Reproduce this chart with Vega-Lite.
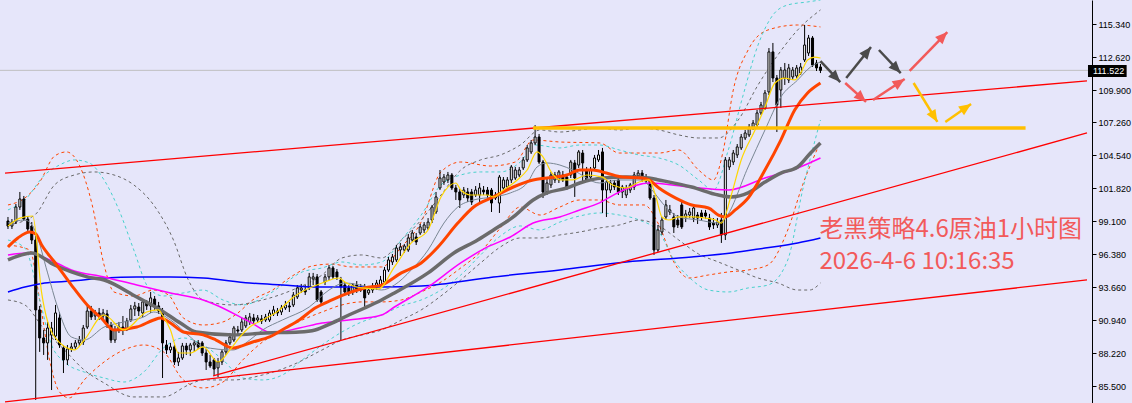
{
"$schema":"https://vega.github.io/schema/vega-lite/v6.json",
"width":1092,"height":403,
"autosize":{"type":"none"},
"padding":{"left":0,"top":0,"right":40,"bottom":0},
"background":"#E6E6FA",
"config":{"view":{"stroke":null},
 "axisY":{"grid":false,"domainColor":"#000000","domainWidth":1,"tickColor":"#000000","tickSize":4,"labelColor":"#000000","labelFont":"Liberation Sans","labelFontSize":9,"labelPadding":2,"labelOverlap":false,"labelFlush":false}},
"resolve":{"scale":{"color":"independent"}},
"datasets":{
"k":[
{"i":0,"o":99.11,"h":99.44,"l":98.45,"c":98.69},{"i":1,"o":98.69,"h":99.27,"l":98.45,"c":99.02},{"i":2,"o":99.02,"h":100.51,"l":98.86,"c":100.26},{"i":3,"o":100.26,"h":101.50,"l":100.02,"c":100.92},{"i":4,"o":100.92,"h":101.17,"l":99.11,"c":99.27},{"i":5,"o":99.27,"h":99.52,"l":98.29,"c":98.45},{"i":6,"o":98.69,"h":99.02,"l":97.21,"c":97.54},{"i":7,"o":97.54,"h":97.87,"l":84.36,"c":91.78},{"i":8,"o":91.78,"h":92.11,"l":88.32,"c":89.47},{"i":9,"o":89.47,"h":90.13,"l":88.07,"c":89.06},
{"i":10,"o":89.06,"h":90.79,"l":87.66,"c":90.29},{"i":11,"o":89.71,"h":90.79,"l":85.18,"c":90.29},{"i":12,"o":89.63,"h":92.19,"l":89.30,"c":91.53},{"i":13,"o":91.12,"h":91.61,"l":88.65,"c":88.89},{"i":14,"o":88.65,"h":88.89,"l":86.58,"c":87.66},{"i":15,"o":87.66,"h":88.89,"l":87.24,"c":88.56},{"i":16,"o":88.56,"h":89.06,"l":88.32,"c":88.73},{"i":17,"o":88.73,"h":89.30,"l":88.48,"c":89.06},{"i":18,"o":89.06,"h":89.63,"l":88.81,"c":89.30},{"i":19,"o":89.14,"h":90.54,"l":88.89,"c":90.29},
{"i":20,"o":90.37,"h":92.19,"l":90.21,"c":91.69},{"i":21,"o":91.69,"h":92.11,"l":90.95,"c":91.20},{"i":22,"o":91.28,"h":91.78,"l":90.95,"c":91.53},{"i":23,"o":91.53,"h":91.94,"l":90.95,"c":91.28},{"i":24,"o":91.28,"h":91.86,"l":90.95,"c":91.53},{"i":25,"o":91.45,"h":91.78,"l":90.29,"c":90.62},{"i":26,"o":90.54,"h":90.79,"l":89.06,"c":89.30},{"i":27,"o":89.30,"h":90.46,"l":89.06,"c":90.13},{"i":28,"o":90.13,"h":90.79,"l":89.88,"c":90.37},{"i":29,"o":90.37,"h":91.28,"l":89.71,"c":90.21},
{"i":30,"o":90.21,"h":91.12,"l":90.04,"c":90.87},{"i":31,"o":90.95,"h":92.19,"l":90.79,"c":91.86},{"i":32,"o":91.86,"h":92.44,"l":91.28,"c":92.11},{"i":33,"o":92.02,"h":92.35,"l":91.28,"c":91.69},{"i":34,"o":91.53,"h":92.60,"l":91.20,"c":92.44},{"i":35,"o":92.35,"h":92.60,"l":91.78,"c":92.11},{"i":36,"o":92.11,"h":93.26,"l":91.53,"c":92.77},{"i":37,"o":92.68,"h":92.93,"l":91.78,"c":92.11},{"i":38,"o":92.11,"h":92.44,"l":91.45,"c":91.69},{"i":39,"o":91.69,"h":91.94,"l":86.17,"c":89.06},
{"i":40,"o":88.89,"h":89.30,"l":88.15,"c":88.48},{"i":41,"o":88.48,"h":89.06,"l":88.23,"c":88.73},{"i":42,"o":88.73,"h":88.89,"l":87.24,"c":87.49},{"i":43,"o":87.49,"h":88.32,"l":87.16,"c":87.82},{"i":44,"o":87.82,"h":89.06,"l":87.66,"c":88.81},{"i":45,"o":88.81,"h":89.06,"l":88.07,"c":88.48},{"i":46,"o":88.48,"h":89.06,"l":87.99,"c":88.89},{"i":47,"o":88.89,"h":89.30,"l":88.32,"c":89.06},{"i":48,"o":89.06,"h":89.30,"l":88.56,"c":88.73},{"i":49,"o":89.06,"h":89.22,"l":87.99,"c":88.23},
{"i":50,"o":88.23,"h":88.56,"l":86.83,"c":87.49},{"i":51,"o":87.49,"h":88.07,"l":87.00,"c":87.16},{"i":52,"o":87.66,"h":87.82,"l":86.42,"c":86.91},{"i":53,"o":87.00,"h":87.82,"l":86.25,"c":87.49},{"i":54,"o":87.49,"h":88.48,"l":87.24,"c":88.32},{"i":55,"o":88.32,"h":89.30,"l":88.07,"c":89.06},{"i":56,"o":89.06,"h":89.88,"l":88.89,"c":89.55},{"i":57,"o":89.30,"h":90.46,"l":89.14,"c":90.29},{"i":58,"o":90.13,"h":90.46,"l":89.80,"c":90.04},{"i":59,"o":90.13,"h":91.12,"l":89.96,"c":90.79},
{"i":60,"o":90.46,"h":91.36,"l":90.29,"c":91.12},{"i":61,"o":90.79,"h":91.53,"l":90.54,"c":91.20},{"i":62,"o":91.12,"h":91.45,"l":90.62,"c":90.87},{"i":63,"o":90.95,"h":91.36,"l":90.70,"c":91.12},{"i":64,"o":91.04,"h":91.36,"l":90.62,"c":90.87},{"i":65,"o":90.95,"h":91.45,"l":90.79,"c":91.20},{"i":66,"o":90.95,"h":91.78,"l":90.79,"c":91.53},{"i":67,"o":91.45,"h":92.11,"l":91.28,"c":91.78},{"i":68,"o":91.69,"h":91.94,"l":91.28,"c":91.53},{"i":69,"o":91.61,"h":92.19,"l":91.36,"c":91.94},
{"i":70,"o":91.94,"h":92.52,"l":91.78,"c":92.19},{"i":71,"o":92.11,"h":92.44,"l":91.61,"c":92.02},{"i":72,"o":92.19,"h":93.26,"l":92.02,"c":93.01},{"i":73,"o":92.85,"h":93.83,"l":92.68,"c":93.59},{"i":74,"o":93.42,"h":93.92,"l":93.18,"c":93.59},{"i":75,"o":93.42,"h":93.83,"l":93.01,"c":93.26},{"i":76,"o":93.59,"h":94.83,"l":93.42,"c":94.50},{"i":77,"o":94.33,"h":94.83,"l":93.83,"c":94.50},{"i":78,"o":94.50,"h":94.74,"l":92.44,"c":92.60},{"i":79,"o":93.26,"h":93.42,"l":92.19,"c":92.44},
{"i":80,"o":94.08,"h":94.74,"l":93.83,"c":94.50},{"i":81,"o":94.50,"h":95.48,"l":94.25,"c":95.24},{"i":82,"o":95.24,"h":95.40,"l":94.33,"c":94.50},{"i":83,"o":94.91,"h":95.15,"l":94.25,"c":94.50},{"i":84,"o":94.25,"h":94.50,"l":89.30,"c":93.67},{"i":85,"o":93.83,"h":94.08,"l":93.01,"c":93.26},{"i":86,"o":93.59,"h":93.83,"l":92.93,"c":93.18},{"i":87,"o":93.26,"h":94.00,"l":93.01,"c":93.83},{"i":88,"o":93.83,"h":94.16,"l":93.18,"c":93.42},{"i":89,"o":93.42,"h":93.92,"l":93.26,"c":93.67},
{"i":90,"o":93.67,"h":93.92,"l":91.94,"c":92.77},{"i":91,"o":93.18,"h":93.75,"l":93.01,"c":93.42},{"i":92,"o":93.42,"h":94.00,"l":93.18,"c":93.75},{"i":93,"o":93.67,"h":94.25,"l":93.42,"c":94.00},{"i":94,"o":93.83,"h":94.58,"l":93.67,"c":94.25},{"i":95,"o":94.08,"h":95.32,"l":93.92,"c":95.07},{"i":96,"o":95.07,"h":96.14,"l":94.91,"c":95.90},{"i":97,"o":95.73,"h":96.39,"l":95.48,"c":96.14},{"i":98,"o":95.90,"h":97.13,"l":95.73,"c":96.88},{"i":99,"o":96.72,"h":97.30,"l":96.23,"c":96.97},
{"i":100,"o":96.72,"h":97.21,"l":96.47,"c":97.05},{"i":101,"o":96.72,"h":98.04,"l":96.56,"c":97.71},{"i":102,"o":97.54,"h":98.37,"l":97.38,"c":98.12},{"i":103,"o":97.79,"h":98.12,"l":97.13,"c":97.38},{"i":104,"o":98.12,"h":98.86,"l":97.96,"c":98.62},{"i":105,"o":98.37,"h":99.02,"l":98.12,"c":98.78},{"i":106,"o":98.53,"h":99.35,"l":98.37,"c":99.02},{"i":107,"o":99.19,"h":100.43,"l":98.94,"c":100.26},{"i":108,"o":99.85,"h":101.50,"l":99.69,"c":101.09},{"i":109,"o":101.83,"h":103.31,"l":101.66,"c":102.65},
{"i":110,"o":102.32,"h":102.98,"l":102.08,"c":102.73},{"i":111,"o":102.49,"h":103.15,"l":102.24,"c":102.90},{"i":112,"o":102.90,"h":103.06,"l":101.66,"c":101.83},{"i":113,"o":101.83,"h":102.08,"l":100.84,"c":101.50},{"i":114,"o":101.50,"h":101.75,"l":100.18,"c":100.84},{"i":115,"o":101.25,"h":101.91,"l":101.00,"c":101.66},{"i":116,"o":101.50,"h":101.83,"l":100.67,"c":101.00},{"i":117,"o":101.50,"h":101.75,"l":100.43,"c":100.67},{"i":118,"o":101.25,"h":101.99,"l":101.09,"c":101.66},{"i":119,"o":101.25,"h":102.24,"l":100.59,"c":101.83},
{"i":120,"o":101.66,"h":101.99,"l":101.25,"c":101.50},{"i":121,"o":101.66,"h":101.91,"l":101.00,"c":101.25},{"i":122,"o":101.66,"h":101.83,"l":99.85,"c":100.59},{"i":123,"o":101.00,"h":101.50,"l":100.84,"c":101.25},{"i":124,"o":100.59,"h":102.90,"l":99.77,"c":102.73},{"i":125,"o":101.83,"h":102.73,"l":101.66,"c":102.49},{"i":126,"o":101.91,"h":102.73,"l":101.66,"c":102.49},{"i":127,"o":102.49,"h":103.72,"l":102.24,"c":103.56},{"i":128,"o":102.65,"h":103.56,"l":102.49,"c":103.31},{"i":129,"o":102.90,"h":103.56,"l":102.73,"c":103.31},
{"i":130,"o":103.48,"h":104.38,"l":103.31,"c":104.14},{"i":131,"o":104.14,"h":105.37,"l":103.97,"c":105.13},{"i":132,"o":104.80,"h":105.78,"l":104.63,"c":105.54},{"i":133,"o":105.54,"h":107.01,"l":105.37,"c":106.03},{"i":134,"o":106.03,"h":106.28,"l":103.81,"c":103.97},{"i":135,"o":103.97,"h":104.14,"l":101.00,"c":101.50},{"i":136,"o":101.50,"h":102.65,"l":101.25,"c":102.24},{"i":137,"o":102.08,"h":103.15,"l":101.83,"c":102.90},{"i":138,"o":102.49,"h":103.15,"l":102.24,"c":102.90},{"i":139,"o":102.49,"h":103.31,"l":102.24,"c":103.15},
{"i":140,"o":102.90,"h":103.23,"l":102.32,"c":102.49},{"i":141,"o":102.73,"h":102.98,"l":101.66,"c":101.83},{"i":142,"o":102.90,"h":104.14,"l":102.65,"c":103.97},{"i":143,"o":103.89,"h":104.14,"l":101.09,"c":102.65},{"i":144,"o":103.72,"h":104.96,"l":103.48,"c":104.80},{"i":145,"o":104.71,"h":104.96,"l":102.24,"c":103.89},{"i":146,"o":103.31,"h":103.56,"l":102.32,"c":102.49},{"i":147,"o":102.73,"h":103.56,"l":102.49,"c":103.31},{"i":148,"o":103.48,"h":104.55,"l":103.31,"c":104.30},{"i":149,"o":104.14,"h":104.96,"l":103.97,"c":104.55},
{"i":150,"o":104.80,"h":105.13,"l":99.77,"c":101.66},{"i":151,"o":101.66,"h":102.49,"l":99.44,"c":102.32},{"i":152,"o":101.66,"h":102.49,"l":101.42,"c":102.24},{"i":153,"o":102.24,"h":102.49,"l":101.66,"c":101.91},{"i":154,"o":102.49,"h":102.65,"l":101.25,"c":101.50},{"i":155,"o":101.50,"h":102.08,"l":101.00,"c":101.91},{"i":156,"o":101.25,"h":102.08,"l":101.00,"c":101.83},{"i":157,"o":101.66,"h":102.24,"l":101.42,"c":102.08},{"i":158,"o":101.91,"h":103.15,"l":101.66,"c":102.90},{"i":159,"o":102.82,"h":103.31,"l":102.65,"c":103.06},
{"i":160,"o":103.06,"h":103.31,"l":102.32,"c":102.65},{"i":161,"o":102.73,"h":102.98,"l":102.24,"c":102.40},{"i":162,"o":102.49,"h":102.73,"l":100.84,"c":101.00},{"i":163,"o":101.00,"h":101.25,"l":96.31,"c":96.72},{"i":164,"o":96.72,"h":98.78,"l":96.56,"c":98.37},{"i":165,"o":98.20,"h":99.44,"l":97.96,"c":99.19},{"i":166,"o":99.44,"h":100.84,"l":99.19,"c":100.43},{"i":167,"o":99.85,"h":100.43,"l":99.60,"c":100.02},{"i":168,"o":99.44,"h":99.77,"l":98.12,"c":98.62},{"i":169,"o":99.19,"h":99.60,"l":98.53,"c":98.78},
{"i":170,"o":100.43,"h":100.67,"l":98.45,"c":98.62},{"i":171,"o":99.44,"h":100.02,"l":99.02,"c":99.69},{"i":172,"o":99.60,"h":100.18,"l":99.35,"c":99.85},{"i":173,"o":99.35,"h":100.43,"l":99.02,"c":100.18},{"i":174,"o":99.60,"h":99.85,"l":98.86,"c":99.35},{"i":175,"o":99.77,"h":100.02,"l":99.19,"c":99.44},{"i":176,"o":99.77,"h":100.02,"l":99.27,"c":99.52},{"i":177,"o":99.35,"h":99.69,"l":98.37,"c":98.62},{"i":178,"o":98.94,"h":99.35,"l":98.45,"c":98.78},{"i":179,"o":98.78,"h":99.35,"l":98.53,"c":99.02},
{"i":180,"o":99.19,"h":99.77,"l":97.30,"c":97.96},{"i":181,"o":97.96,"h":104.38,"l":97.54,"c":104.14},{"i":182,"o":103.56,"h":104.38,"l":103.31,"c":104.14},{"i":183,"o":103.97,"h":104.96,"l":103.72,"c":104.71},{"i":184,"o":104.55,"h":105.45,"l":104.30,"c":105.21},{"i":185,"o":105.13,"h":106.28,"l":104.96,"c":106.03},{"i":186,"o":105.95,"h":106.61,"l":105.78,"c":106.36},{"i":187,"o":106.20,"h":107.10,"l":106.03,"c":106.85},{"i":188,"o":106.77,"h":107.43,"l":106.61,"c":107.18},{"i":189,"o":107.02,"h":108.26,"l":106.85,"c":108.01},
{"i":190,"o":108.01,"h":108.92,"l":107.84,"c":108.67},{"i":191,"o":108.42,"h":109.90,"l":108.26,"c":109.66},{"i":192,"o":109.74,"h":113.36,"l":109.49,"c":113.04},{"i":193,"o":113.04,"h":113.78,"l":110.56,"c":110.89},{"i":194,"o":110.89,"h":111.14,"l":106.44,"c":108.67},{"i":195,"o":109.90,"h":111.80,"l":108.42,"c":111.55},{"i":196,"o":110.89,"h":112.13,"l":110.32,"c":111.55},{"i":197,"o":110.73,"h":112.05,"l":110.48,"c":111.72},{"i":198,"o":110.98,"h":111.80,"l":110.73,"c":111.55},{"i":199,"o":111.06,"h":111.96,"l":110.89,"c":111.72},
{"i":200,"o":111.31,"h":112.13,"l":111.14,"c":111.80},{"i":201,"o":112.38,"h":115.26,"l":112.21,"c":113.61},{"i":202,"o":112.95,"h":114.44,"l":112.71,"c":114.19},{"i":203,"o":114.19,"h":114.35,"l":111.80,"c":111.96},{"i":204,"o":112.13,"h":112.38,"l":111.47,"c":111.72},{"i":205,"o":111.80,"h":112.05,"l":111.30,"c":111.52}
],
"ma":[
{"s":"Y","i":0,"p":98.69},{"s":"Y","i":3,"p":99.35},{"s":"Y","i":6.25,"p":99.52},{"s":"Y","i":8.5,"p":93.18},{"s":"Y","i":11.75,"p":89.55},{"s":"Y","i":16.75,"p":88.48},{"s":"Y","i":19.25,"p":89.30},{"s":"Y","i":24.25,"p":91.36},{"s":"Y","i":29.25,"p":90.13},{"s":"Y","i":35,"p":91.61},{"s":"Y","i":38,"p":91.78},{"s":"Y","i":39.25,"p":91.20},{"s":"Y","i":41,"p":90.13},{"s":"Y","i":43,"p":88.23},{"s":"Y","i":46,"p":88.23},{"s":"Y","i":49.25,"p":88.73},{"s":"Y","i":53,"p":87.49},{"s":"Y","i":56,"p":88.48},{"s":"Y","i":58.5,"p":89.55},{"s":"Y","i":61,"p":90.37},{"s":"Y","i":64.25,"p":90.95},{"s":"Y","i":68.5,"p":91.78},{"s":"Y","i":71.75,"p":92.77},{"s":"Y","i":75,"p":93.42},{"s":"Y","i":79.25,"p":94.00},{"s":"Y","i":83.5,"p":94.41},{"s":"Y","i":85,"p":94.08},{"s":"Y","i":89.25,"p":93.59},{"s":"Y","i":93.5,"p":93.51},{"s":"Y","i":97.5,"p":95.32},{"s":"Y","i":101.75,"p":97.30},{"s":"Y","i":106,"p":98.37},{"s":"Y","i":109.25,"p":101.09},{"s":"Y","i":113,"p":102.24},{"s":"Y","i":114.25,"p":101.66},{"s":"Y","i":116.75,"p":101.25},{"s":"Y","i":121,"p":101.25},{"s":"Y","i":122.5,"p":101.09},{"s":"Y","i":125,"p":101.66},{"s":"Y","i":128.5,"p":102.49},{"s":"Y","i":131,"p":103.31},{"s":"Y","i":133.5,"p":104.80},{"s":"Y","i":135,"p":104.38},{"s":"Y","i":137.25,"p":103.06},{"s":"Y","i":139.25,"p":102.49},{"s":"Y","i":142.5,"p":102.49},{"s":"Y","i":146,"p":102.90},{"s":"Y","i":150,"p":102.73},{"s":"Y","i":152.5,"p":102.08},{"s":"Y","i":156,"p":101.83},{"s":"Y","i":159.25,"p":102.32},{"s":"Y","i":161.75,"p":102.49},{"s":"Y","i":163.5,"p":101.09},{"s":"Y","i":165,"p":99.44},{"s":"Y","i":166.75,"p":99.19},{"s":"Y","i":169.25,"p":99.44},{"s":"Y","i":172.5,"p":99.44},{"s":"Y","i":176,"p":99.35},{"s":"Y","i":178.5,"p":99.19},{"s":"Y","i":180,"p":98.94},{"s":"Y","i":182.5,"p":101.25},{"s":"Y","i":185,"p":104.14},{"s":"Y","i":188.5,"p":106.61},{"s":"Y","i":191,"p":108.50},{"s":"Y","i":193.5,"p":110.48},{"s":"Y","i":196,"p":110.89},{"s":"Y","i":198.5,"p":110.73},{"s":"Y","i":200,"p":111.30},{"s":"Y","i":201.75,"p":112.38},{"s":"Y","i":203.5,"p":112.62},{"s":"Y","i":205,"p":112.54},
{"s":"GT","i":0,"p":98.94},{"s":"GT","i":4.25,"p":99.19},{"s":"GT","i":6.75,"p":98.37},{"s":"GT","i":10,"p":94.83},{"s":"GT","i":12.5,"p":92.02},{"s":"GT","i":16,"p":89.55},{"s":"GT","i":19.25,"p":89.30},{"s":"GT","i":24.25,"p":90.37},{"s":"GT","i":29.25,"p":90.79},{"s":"GT","i":34.25,"p":91.20},{"s":"GT","i":36.75,"p":91.61},{"s":"GT","i":41,"p":90.95},{"s":"GT","i":46,"p":89.55},{"s":"GT","i":49.25,"p":88.73},{"s":"GT","i":56.75,"p":88.48},{"s":"GT","i":61,"p":89.30},{"s":"GT","i":64.25,"p":90.13},{"s":"GT","i":69.25,"p":90.95},{"s":"GT","i":76,"p":92.02},{"s":"GT","i":81,"p":93.42},{"s":"GT","i":85,"p":94.00},{"s":"GT","i":91,"p":93.67},{"s":"GT","i":94.25,"p":93.42},{"s":"GT","i":97.5,"p":93.83},{"s":"GT","i":101.75,"p":95.07},{"s":"GT","i":106,"p":96.72},{"s":"GT","i":110,"p":98.94},{"s":"GT","i":113.5,"p":100.26},{"s":"GT","i":117.5,"p":100.84},{"s":"GT","i":122.5,"p":101.09},{"s":"GT","i":126.75,"p":101.42},{"s":"GT","i":131,"p":102.24},{"s":"GT","i":133.5,"p":103.56},{"s":"GT","i":136,"p":103.89},{"s":"GT","i":139.25,"p":103.72},{"s":"GT","i":142.5,"p":103.31},{"s":"GT","i":149.25,"p":102.24},{"s":"GT","i":154.25,"p":102.49},{"s":"GT","i":160,"p":102.49},{"s":"GT","i":162.5,"p":101.66},{"s":"GT","i":166,"p":100.26},{"s":"GT","i":169.25,"p":99.44},{"s":"GT","i":174.25,"p":99.19},{"s":"GT","i":179.25,"p":98.94},{"s":"GT","i":181,"p":99.35},{"s":"GT","i":186.75,"p":103.56},{"s":"GT","i":191,"p":106.61},{"s":"GT","i":195,"p":109.33},{"s":"GT","i":199.25,"p":110.73},{"s":"GT","i":202.5,"p":111.80},{"s":"GT","i":205,"p":112.21},
{"s":"OT","i":0,"p":96.97},{"s":"OT","i":2.5,"p":97.71},{"s":"OT","i":5.5,"p":98.20},{"s":"OT","i":7,"p":98.04},{"s":"OT","i":8.5,"p":97.13},{"s":"OT","i":11.75,"p":95.73},{"s":"OT","i":16,"p":93.83},{"s":"OT","i":20,"p":92.19},{"s":"OT","i":23.5,"p":91.12},{"s":"OT","i":26.75,"p":90.13},{"s":"OT","i":32.5,"p":90.37},{"s":"OT","i":36.75,"p":90.95},{"s":"OT","i":38.5,"p":91.12},{"s":"OT","i":41,"p":90.70},{"s":"OT","i":44.25,"p":89.96},{"s":"OT","i":49.25,"p":89.72},{"s":"OT","i":52.5,"p":89.30},{"s":"OT","i":56.75,"p":88.65},{"s":"OT","i":61.75,"p":89.14},{"s":"OT","i":66,"p":89.55},{"s":"OT","i":70,"p":90.29},{"s":"OT","i":73.5,"p":90.95},{"s":"OT","i":77.5,"p":91.94},{"s":"OT","i":81.75,"p":92.60},{"s":"OT","i":86,"p":93.18},{"s":"OT","i":90,"p":93.59},{"s":"OT","i":94.25,"p":93.83},{"s":"OT","i":99.25,"p":94.83},{"s":"OT","i":104.25,"p":95.65},{"s":"OT","i":108.5,"p":96.97},{"s":"OT","i":113.5,"p":98.94},{"s":"OT","i":117.5,"p":100.26},{"s":"OT","i":122.5,"p":101.09},{"s":"OT","i":127.5,"p":101.91},{"s":"OT","i":132.5,"p":102.49},{"s":"OT","i":136,"p":102.65},{"s":"OT","i":141,"p":102.90},{"s":"OT","i":144.25,"p":103.31},{"s":"OT","i":147.5,"p":103.31},{"s":"OT","i":151,"p":103.06},{"s":"OT","i":155,"p":102.73},{"s":"OT","i":160,"p":102.65},{"s":"OT","i":161.75,"p":102.49},{"s":"OT","i":164.25,"p":101.83},{"s":"OT","i":168.5,"p":101.00},{"s":"OT","i":172.5,"p":100.43},{"s":"OT","i":176.75,"p":100.18},{"s":"OT","i":179.25,"p":99.60},{"s":"OT","i":181,"p":99.44},{"s":"OT","i":183.5,"p":100.02},{"s":"OT","i":186.75,"p":101.00},{"s":"OT","i":191,"p":103.31},{"s":"OT","i":195,"p":105.78},{"s":"OT","i":198.5,"p":108.26},{"s":"OT","i":201.75,"p":109.66},{"s":"OT","i":205,"p":110.48},
{"s":"GK","i":0,"p":95.90},{"s":"GK","i":6,"p":96.47},{"s":"GK","i":11.75,"p":95.48},{"s":"GK","i":16,"p":94.91},{"s":"GK","i":20,"p":94.50},{"s":"GK","i":24.25,"p":94.25},{"s":"GK","i":32.5,"p":92.85},{"s":"GK","i":38.5,"p":91.78},{"s":"GK","i":43.5,"p":90.70},{"s":"GK","i":47.5,"p":89.96},{"s":"GK","i":56.75,"p":89.72},{"s":"GK","i":65,"p":89.88},{"s":"GK","i":73.5,"p":89.96},{"s":"GK","i":77.5,"p":90.13},{"s":"GK","i":81.75,"p":90.70},{"s":"GK","i":86,"p":91.36},{"s":"GK","i":90,"p":91.94},{"s":"GK","i":94.25,"p":92.60},{"s":"GK","i":97.5,"p":93.18},{"s":"GK","i":106,"p":94.83},{"s":"GK","i":112.5,"p":96.47},{"s":"GK","i":118.5,"p":97.54},{"s":"GK","i":122.5,"p":98.37},{"s":"GK","i":127.5,"p":99.44},{"s":"GK","i":132.5,"p":100.84},{"s":"GK","i":136,"p":101.42},{"s":"GK","i":141,"p":101.83},{"s":"GK","i":144.25,"p":102.24},{"s":"GK","i":150,"p":102.65},{"s":"GK","i":156,"p":102.73},{"s":"GK","i":161.75,"p":102.65},{"s":"GK","i":164.25,"p":102.49},{"s":"GK","i":172.5,"p":101.91},{"s":"GK","i":179.25,"p":101.25},{"s":"GK","i":182.5,"p":101.09},{"s":"GK","i":186.75,"p":101.42},{"s":"GK","i":191,"p":102.32},{"s":"GK","i":195,"p":103.06},{"s":"GK","i":199.25,"p":103.56},{"s":"GK","i":202.5,"p":104.71},{"s":"GK","i":205,"p":105.54},
{"s":"M","i":0,"p":96.31},{"s":"M","i":5,"p":96.47},{"s":"M","i":11.75,"p":95.73},{"s":"M","i":16,"p":95.07},{"s":"M","i":24.25,"p":94.50},{"s":"M","i":32.5,"p":93.83},{"s":"M","i":41,"p":93.18},{"s":"M","i":49.25,"p":92.60},{"s":"M","i":52.5,"p":92.19},{"s":"M","i":61,"p":90.79},{"s":"M","i":66.75,"p":89.88},{"s":"M","i":73.5,"p":90.29},{"s":"M","i":79.25,"p":90.70},{"s":"M","i":86,"p":90.95},{"s":"M","i":94.25,"p":91.36},{"s":"M","i":97.5,"p":92.02},{"s":"M","i":106,"p":93.67},{"s":"M","i":114.25,"p":95.65},{"s":"M","i":121,"p":96.97},{"s":"M","i":126.75,"p":97.79},{"s":"M","i":132.5,"p":98.94},{"s":"M","i":139.25,"p":99.44},{"s":"M","i":144.25,"p":100.02},{"s":"M","i":149.25,"p":100.60},{"s":"M","i":154.25,"p":101.50},{"s":"M","i":161.75,"p":102.24},{"s":"M","i":171.75,"p":101.91},{"s":"M","i":181.75,"p":101.66},{"s":"M","i":191,"p":102.65},{"s":"M","i":199.25,"p":103.48},{"s":"M","i":205,"p":104.30},
{"s":"B","i":0,"p":93.26},{"s":"B","i":4.25,"p":93.67},{"s":"B","i":9.25,"p":94.00},{"s":"B","i":16,"p":94.16},{"s":"B","i":24.25,"p":94.41},{"s":"B","i":32.5,"p":94.50},{"s":"B","i":41,"p":94.50},{"s":"B","i":49.25,"p":94.41},{"s":"B","i":61,"p":94.00},{"s":"B","i":69.25,"p":93.83},{"s":"B","i":77.5,"p":93.67},{"s":"B","i":86,"p":93.67},{"s":"B","i":94.25,"p":93.67},{"s":"B","i":104.25,"p":93.75},{"s":"B","i":122.5,"p":94.50},{"s":"B","i":139.25,"p":95.07},{"s":"B","i":156,"p":95.73},{"s":"B","i":172.5,"p":96.14},{"s":"B","i":182.5,"p":96.47},{"s":"B","i":191,"p":96.88},{"s":"B","i":199.25,"p":97.30},{"s":"B","i":205,"p":97.71},
{"s":"OU","i":0,"p":100.43},{"s":"OU","i":4.25,"p":101.00},{"s":"OU","i":8,"p":102.32},{"s":"OU","i":11.75,"p":104.46},{"s":"OU","i":14.75,"p":104.80},{"s":"OU","i":18,"p":103.72},{"s":"OU","i":21.25,"p":100.43},{"s":"OU","i":24.25,"p":95.48},{"s":"OU","i":26.75,"p":93.26},{"s":"OU","i":31.75,"p":92.93},{"s":"OU","i":36.75,"p":93.42},{"s":"OU","i":40.5,"p":93.01},{"s":"OU","i":44.25,"p":91.12},{"s":"OU","i":49.25,"p":90.54},{"s":"OU","i":54.25,"p":90.79},{"s":"OU","i":58,"p":91.53},{"s":"OU","i":61.75,"p":92.60},{"s":"OU","i":66.75,"p":93.42},{"s":"OU","i":71.75,"p":94.58},{"s":"OU","i":76.75,"p":95.40},{"s":"OU","i":81.75,"p":95.56},{"s":"OU","i":86.75,"p":95.32},{"s":"OU","i":94.25,"p":95.32},{"s":"OU","i":99.25,"p":96.97},{"s":"OU","i":104.25,"p":99.02},{"s":"OU","i":109.25,"p":103.15},{"s":"OU","i":114.25,"p":103.97},{"s":"OU","i":121.75,"p":103.64},{"s":"OU","i":128,"p":103.97},{"s":"OU","i":132.5,"p":105.78},{"s":"OU","i":139.25,"p":105.62},{"s":"OU","i":149.25,"p":105.54},{"s":"OU","i":154.25,"p":104.71},{"s":"OU","i":164.25,"p":104.71},{"s":"OU","i":169.25,"p":104.96},{"s":"OU","i":174.25,"p":103.31},{"s":"OU","i":178,"p":102.49},{"s":"OU","i":180.5,"p":104.96},{"s":"OU","i":183,"p":109.90},{"s":"OU","i":186.75,"p":113.20},{"s":"OU","i":191.75,"p":114.85},{"s":"OU","i":199.25,"p":115.26},{"s":"OU","i":205,"p":115.10},
{"s":"OL","i":0,"p":97.13},{"s":"OL","i":5.5,"p":96.72},{"s":"OL","i":8,"p":92.60},{"s":"OL","i":10.5,"p":87.66},{"s":"OL","i":13,"p":85.02},{"s":"OL","i":15.5,"p":84.53},{"s":"OL","i":19.25,"p":86.01},{"s":"OL","i":24.25,"p":87.49},{"s":"OL","i":29.25,"p":88.48},{"s":"OL","i":34.25,"p":88.89},{"s":"OL","i":39.25,"p":88.32},{"s":"OL","i":44.25,"p":86.01},{"s":"OL","i":49.25,"p":85.35},{"s":"OL","i":54.25,"p":85.84},{"s":"OL","i":59.25,"p":87.66},{"s":"OL","i":64.25,"p":89.14},{"s":"OL","i":69.25,"p":90.13},{"s":"OL","i":74.25,"p":90.95},{"s":"OL","i":79.25,"p":91.61},{"s":"OL","i":84.25,"p":92.19},{"s":"OL","i":89.25,"p":92.44},{"s":"OL","i":94.25,"p":92.44},{"s":"OL","i":99.25,"p":92.60},{"s":"OL","i":104.25,"p":93.26},{"s":"OL","i":109.25,"p":94.08},{"s":"OL","i":114.25,"p":95.24},{"s":"OL","i":119.25,"p":96.56},{"s":"OL","i":124.25,"p":98.53},{"s":"OL","i":129.25,"p":100.26},{"s":"OL","i":134.25,"p":99.60},{"s":"OL","i":139.25,"p":100.26},{"s":"OL","i":144.25,"p":100.84},{"s":"OL","i":149.25,"p":100.84},{"s":"OL","i":154.25,"p":100.43},{"s":"OL","i":160.5,"p":100.43},{"s":"OL","i":164.25,"p":98.78},{"s":"OL","i":168,"p":95.73},{"s":"OL","i":171.75,"p":94.41},{"s":"OL","i":176.75,"p":94.66},{"s":"OL","i":181.75,"p":94.91},{"s":"OL","i":186.75,"p":95.07},{"s":"OL","i":191.75,"p":95.48},{"s":"OL","i":196.75,"p":98.37},{"s":"OL","i":200.5,"p":102.08},{"s":"OL","i":205,"p":105.62},
{"s":"CU","i":0,"p":100.02},{"s":"CU","i":4.25,"p":100.84},{"s":"CU","i":9.25,"p":102.90},{"s":"CU","i":13,"p":103.72},{"s":"CU","i":16.75,"p":104.14},{"s":"CU","i":20.5,"p":103.89},{"s":"CU","i":24.25,"p":102.49},{"s":"CU","i":28,"p":100.02},{"s":"CU","i":31.75,"p":96.72},{"s":"CU","i":35.5,"p":93.59},{"s":"CU","i":39.25,"p":92.93},{"s":"CU","i":44.25,"p":93.18},{"s":"CU","i":49.25,"p":93.42},{"s":"CU","i":54.25,"p":92.60},{"s":"CU","i":59.25,"p":92.19},{"s":"CU","i":64.25,"p":92.77},{"s":"CU","i":69.25,"p":93.83},{"s":"CU","i":74.25,"p":94.91},{"s":"CU","i":79.25,"p":95.24},{"s":"CU","i":84.25,"p":95.73},{"s":"CU","i":89.25,"p":95.48},{"s":"CU","i":94.25,"p":95.73},{"s":"CU","i":99.25,"p":97.54},{"s":"CU","i":104.25,"p":99.60},{"s":"CU","i":109.25,"p":102.08},{"s":"CU","i":114.25,"p":102.90},{"s":"CU","i":119.25,"p":103.15},{"s":"CU","i":124.25,"p":103.15},{"s":"CU","i":129.25,"p":103.97},{"s":"CU","i":133,"p":105.37},{"s":"CU","i":139.25,"p":105.13},{"s":"CU","i":144.25,"p":105.37},{"s":"CU","i":149.25,"p":105.37},{"s":"CU","i":154.25,"p":104.96},{"s":"CU","i":159.25,"p":104.55},{"s":"CU","i":164.25,"p":104.30},{"s":"CU","i":169.25,"p":103.72},{"s":"CU","i":174.25,"p":102.49},{"s":"CU","i":178,"p":101.66},{"s":"CU","i":181.75,"p":104.96},{"s":"CU","i":185.5,"p":109.49},{"s":"CU","i":189.25,"p":113.61},{"s":"CU","i":193,"p":116.08},{"s":"CU","i":196.75,"p":116.91},{"s":"CU","i":201.75,"p":117.16},{"s":"CU","i":205,"p":117.32},
{"s":"CL","i":0,"p":97.54},{"s":"CL","i":4.25,"p":96.88},{"s":"CL","i":8,"p":92.60},{"s":"CL","i":11,"p":88.89},{"s":"CL","i":14.25,"p":87.49},{"s":"CL","i":19.25,"p":86.66},{"s":"CL","i":24.25,"p":86.17},{"s":"CL","i":29.25,"p":85.84},{"s":"CL","i":34.25,"p":86.66},{"s":"CL","i":39.25,"p":88.65},{"s":"CL","i":44.25,"p":89.47},{"s":"CL","i":49.25,"p":88.89},{"s":"CL","i":54.25,"p":87.66},{"s":"CL","i":59.25,"p":86.17},{"s":"CL","i":64.25,"p":86.01},{"s":"CL","i":69.25,"p":86.42},{"s":"CL","i":74.25,"p":87.66},{"s":"CL","i":79.25,"p":88.89},{"s":"CL","i":84.25,"p":89.96},{"s":"CL","i":89.25,"p":90.79},{"s":"CL","i":94.25,"p":91.36},{"s":"CL","i":99.25,"p":92.11},{"s":"CL","i":104.25,"p":92.60},{"s":"CL","i":109.25,"p":93.42},{"s":"CL","i":114.25,"p":94.66},{"s":"CL","i":119.25,"p":96.31},{"s":"CL","i":124.25,"p":97.87},{"s":"CL","i":129.25,"p":98.70},{"s":"CL","i":134.25,"p":98.37},{"s":"CL","i":139.25,"p":99.02},{"s":"CL","i":144.25,"p":99.52},{"s":"CL","i":149.25,"p":99.77},{"s":"CL","i":154.25,"p":99.60},{"s":"CL","i":159.25,"p":99.19},{"s":"CL","i":164.25,"p":98.20},{"s":"CL","i":168,"p":95.90},{"s":"CL","i":171.75,"p":94.50},{"s":"CL","i":176.75,"p":93.42},{"s":"CL","i":181.75,"p":93.26},{"s":"CL","i":186.75,"p":93.59},{"s":"CL","i":191.75,"p":93.83},{"s":"CL","i":196.75,"p":95.90},{"s":"CL","i":200.5,"p":101.66},{"s":"CL","i":205,"p":107.43},
{"s":"GU","i":0,"p":98.78},{"s":"GU","i":6.75,"p":99.60},{"s":"GU","i":11.75,"p":102.08},{"s":"GU","i":16.75,"p":102.90},{"s":"GU","i":21.75,"p":103.15},{"s":"GU","i":26.75,"p":102.90},{"s":"GU","i":31.75,"p":102.08},{"s":"GU","i":36.75,"p":100.43},{"s":"GU","i":41.75,"p":97.54},{"s":"GU","i":45.5,"p":94.25},{"s":"GU","i":49.25,"p":92.60},{"s":"GU","i":56.75,"p":92.19},{"s":"GU","i":64.25,"p":92.60},{"s":"GU","i":71.75,"p":93.42},{"s":"GU","i":79.25,"p":94.66},{"s":"GU","i":84.25,"p":96.06},{"s":"GU","i":89.25,"p":96.31},{"s":"GU","i":94.25,"p":96.06},{"s":"GU","i":99.25,"p":97.54},{"s":"GU","i":104.25,"p":99.19},{"s":"GU","i":109.25,"p":101.25},{"s":"GU","i":114.25,"p":103.31},{"s":"GU","i":119.25,"p":104.14},{"s":"GU","i":124.25,"p":104.55},{"s":"GU","i":129.25,"p":105.37},{"s":"GU","i":134.25,"p":106.61},{"s":"GU","i":139.25,"p":106.44},{"s":"GU","i":144.25,"p":106.61},{"s":"GU","i":149.25,"p":106.77},{"s":"GU","i":154.25,"p":106.61},{"s":"GU","i":159.25,"p":106.77},{"s":"GU","i":164.25,"p":106.61},{"s":"GU","i":169.25,"p":106.20},{"s":"GU","i":174.25,"p":105.95},{"s":"GU","i":179.25,"p":105.95},{"s":"GU","i":184.25,"p":107.43},{"s":"GU","i":189.25,"p":110.32},{"s":"GU","i":194.25,"p":112.79},{"s":"GU","i":199.25,"p":114.85},{"s":"GU","i":205,"p":116.50},
{"s":"GL","i":0,"p":92.60},{"s":"GL","i":4.25,"p":92.19},{"s":"GL","i":9.25,"p":90.13},{"s":"GL","i":14.25,"p":88.48},{"s":"GL","i":19.25,"p":86.83},{"s":"GL","i":24.25,"p":85.76},{"s":"GL","i":31.75,"p":84.61},{"s":"GL","i":39.25,"p":84.61},{"s":"GL","i":45.5,"p":85.59},{"s":"GL","i":49.25,"p":86.01},{"s":"GL","i":56.75,"p":86.01},{"s":"GL","i":64.25,"p":86.42},{"s":"GL","i":71.75,"p":87.24},{"s":"GL","i":79.25,"p":88.48},{"s":"GL","i":84.25,"p":89.30},{"s":"GL","i":89.25,"p":89.71},{"s":"GL","i":94.25,"p":90.13},{"s":"GL","i":99.25,"p":90.95},{"s":"GL","i":104.25,"p":91.78},{"s":"GL","i":109.25,"p":92.93},{"s":"GL","i":114.25,"p":94.25},{"s":"GL","i":119.25,"p":95.65},{"s":"GL","i":124.25,"p":96.97},{"s":"GL","i":129.25,"p":97.71},{"s":"GL","i":134.25,"p":97.71},{"s":"GL","i":139.25,"p":97.96},{"s":"GL","i":144.25,"p":98.20},{"s":"GL","i":149.25,"p":98.53},{"s":"GL","i":154.25,"p":98.78},{"s":"GL","i":159.25,"p":99.19},{"s":"GL","i":164.25,"p":98.70},{"s":"GL","i":169.25,"p":97.54},{"s":"GL","i":174.25,"p":96.39},{"s":"GL","i":179.25,"p":95.73},{"s":"GL","i":184.25,"p":95.07},{"s":"GL","i":189.25,"p":94.41},{"s":"GL","i":194.25,"p":94.00},{"s":"GL","i":199.25,"p":93.42},{"s":"GL","i":202.25,"p":93.42},{"s":"GL","i":205,"p":94.00}
],
"tl":[
{"i":-0.75,"p":103.06,"i2":272.25,"p2":110.65},
{"i":51.75,"p":86.34,"i2":272.25,"p2":106.36},
{"i":-0.75,"p":84.20,"i2":272.25,"p2":94.25}
],
"hl":[{"i":132.5,"p":106.77,"i2":256.75,"p2":106.77}],
"ar":[
{"g":"k","i":205,"p":112.29,"i2":210,"p2":110.56},
{"g":"k","i":211.5,"p":110.89,"i2":217.75,"p2":113.45},
{"g":"k","i":219.75,"p":113.20,"i2":225.25,"p2":111.30},
{"g":"r","i":211.25,"p":110.48,"i2":216.5,"p2":108.92},
{"g":"r","i":218.25,"p":109.08,"i2":226.25,"p2":110.81},
{"g":"r","i":227.5,"p":111.47,"i2":237,"p2":114.68},
{"g":"y","i":228.5,"p":110.48,"i2":234.5,"p2":107.27},
{"g":"y","i":236.5,"p":107.27,"i2":243,"p2":108.75}
],
"tx":[
{"i":204.75,"p":98.37,"t":"老黑策略4.6原油1小时图"},
{"i":204.75,"p":95.73,"t":"2026-4-6 10:16:35"}
],
"box":[{"i":272.5,"i2":282.25,"p":110.98,"p2":111.96,"ti":273.75,"tp":111.47,"t":"111.522"}]
},
"layer":[
{"data":{"values":[{"p":111.522}]},
 "mark":{"type":"rule","color":"#C0C0C0","strokeWidth":1},
 "encoding":{"y":{"field":"p","type":"quantitative","scale":{"domain":[84.11,117.32],"nice":false,"zero":false},
   "axis":{"orient":"right","values":[85.5,88.22,90.94,93.66,96.38,99.1,101.82,104.54,107.26,109.9,112.62,115.34],"format":".3f","title":null}}}},
{"data":{"name":"ma"},
 "transform":[{"filter":{"field":"s","oneOf":["OU","OL","CU","CL","GU","GL"]}}],
 "mark":{"type":"line","strokeWidth":1,"strokeDash":[3,3],"interpolate":"monotone"},
 "encoding":{"x":{"field":"i","type":"quantitative","scale":{"domain":[-0.75,272.25],"nice":false,"zero":false},"axis":null},
   "y":{"field":"p","type":"quantitative","scale":{"domain":[84.11,117.32],"nice":false,"zero":false},"axis":{"orient":"right","values":[85.5,88.22,90.94,93.66,96.38,99.1,101.82,104.54,107.26,109.9,112.62,115.34],"format":".3f","title":null}},
   "color":{"field":"s","type":"nominal","scale":{"domain":["OU","OL","CU","CL","GU","GL"],"range":["#FF4500","#FF4500","#48D1CC","#48D1CC","#696969","#696969"]},"legend":null}}},
{"data":{"name":"k"},
 "mark":{"type":"rule","color":"#000000","strokeWidth":1},
 "encoding":{"x":{"field":"i","type":"quantitative","scale":{"domain":[-0.75,272.25],"nice":false,"zero":false},"axis":null},
   "y":{"field":"l","type":"quantitative","scale":{"domain":[84.11,117.32],"nice":false,"zero":false},"axis":{"orient":"right","values":[85.5,88.22,90.94,93.66,96.38,99.1,101.82,104.54,107.26,109.9,112.62,115.34],"format":".3f","title":null}},
   "y2":{"field":"h"}}},
{"data":{"name":"k"},
 "mark":{"type":"bar","width":2,"stroke":"#000000","strokeWidth":1},
 "encoding":{"x":{"field":"i","type":"quantitative","scale":{"domain":[-0.75,272.25],"nice":false,"zero":false},"axis":null},
   "y":{"field":"o","type":"quantitative","scale":{"domain":[84.11,117.32],"nice":false,"zero":false},"axis":{"orient":"right","values":[85.5,88.22,90.94,93.66,96.38,99.1,101.82,104.54,107.26,109.9,112.62,115.34],"format":".3f","title":null}},
   "y2":{"field":"c"},
   "fill":{"condition":{"test":"datum.c >= datum.o","value":"#FFFFFF"},"value":"#000000"}}},
{"data":{"name":"ma"},"transform":[{"filter":"datum.s==='B'"}],
 "mark":{"type":"line","color":"#0000FF","strokeWidth":1.5,"interpolate":"monotone"},
 "encoding":{"x":{"field":"i","type":"quantitative","scale":{"domain":[-0.75,272.25],"nice":false,"zero":false},"axis":null},
   "y":{"field":"p","type":"quantitative","scale":{"domain":[84.11,117.32],"nice":false,"zero":false},"axis":{"orient":"right","values":[85.5,88.22,90.94,93.66,96.38,99.1,101.82,104.54,107.26,109.9,112.62,115.34],"format":".3f","title":null}}}},
{"data":{"name":"ma"},"transform":[{"filter":"datum.s==='M'"}],
 "mark":{"type":"line","color":"#FF00FF","strokeWidth":1.5,"interpolate":"monotone"},
 "encoding":{"x":{"field":"i","type":"quantitative","scale":{"domain":[-0.75,272.25],"nice":false,"zero":false},"axis":null},
   "y":{"field":"p","type":"quantitative","scale":{"domain":[84.11,117.32],"nice":false,"zero":false},"axis":{"orient":"right","values":[85.5,88.22,90.94,93.66,96.38,99.1,101.82,104.54,107.26,109.9,112.62,115.34],"format":".3f","title":null}}}},
{"data":{"name":"ma"},"transform":[{"filter":"datum.s==='GT'"}],
 "mark":{"type":"line","color":"#7A8794","strokeWidth":1,"interpolate":"monotone"},
 "encoding":{"x":{"field":"i","type":"quantitative","scale":{"domain":[-0.75,272.25],"nice":false,"zero":false},"axis":null},
   "y":{"field":"p","type":"quantitative","scale":{"domain":[84.11,117.32],"nice":false,"zero":false},"axis":{"orient":"right","values":[85.5,88.22,90.94,93.66,96.38,99.1,101.82,104.54,107.26,109.9,112.62,115.34],"format":".3f","title":null}}}},
{"data":{"name":"ma"},"transform":[{"filter":"datum.s==='GK'"}],
 "mark":{"type":"line","color":"#6B6B6B","strokeWidth":3.5,"interpolate":"monotone"},
 "encoding":{"x":{"field":"i","type":"quantitative","scale":{"domain":[-0.75,272.25],"nice":false,"zero":false},"axis":null},
   "y":{"field":"p","type":"quantitative","scale":{"domain":[84.11,117.32],"nice":false,"zero":false},"axis":{"orient":"right","values":[85.5,88.22,90.94,93.66,96.38,99.1,101.82,104.54,107.26,109.9,112.62,115.34],"format":".3f","title":null}}}},
{"data":{"name":"ma"},"transform":[{"filter":"datum.s==='OT'"}],
 "mark":{"type":"line","color":"#FF4500","strokeWidth":3,"interpolate":"monotone"},
 "encoding":{"x":{"field":"i","type":"quantitative","scale":{"domain":[-0.75,272.25],"nice":false,"zero":false},"axis":null},
   "y":{"field":"p","type":"quantitative","scale":{"domain":[84.11,117.32],"nice":false,"zero":false},"axis":{"orient":"right","values":[85.5,88.22,90.94,93.66,96.38,99.1,101.82,104.54,107.26,109.9,112.62,115.34],"format":".3f","title":null}}}},
{"data":{"name":"ma"},"transform":[{"filter":"datum.s==='Y'"}],
 "mark":{"type":"line","color":"#FFD700","strokeWidth":1.2,"interpolate":"monotone"},
 "encoding":{"x":{"field":"i","type":"quantitative","scale":{"domain":[-0.75,272.25],"nice":false,"zero":false},"axis":null},
   "y":{"field":"p","type":"quantitative","scale":{"domain":[84.11,117.32],"nice":false,"zero":false},"axis":{"orient":"right","values":[85.5,88.22,90.94,93.66,96.38,99.1,101.82,104.54,107.26,109.9,112.62,115.34],"format":".3f","title":null}}}},
{"data":{"name":"tl"},
 "mark":{"type":"rule","color":"#FF0000","strokeWidth":1.3},
 "encoding":{"x":{"field":"i","type":"quantitative","scale":{"domain":[-0.75,272.25],"nice":false,"zero":false},"axis":null},"x2":{"field":"i2"},
   "y":{"field":"p","type":"quantitative","scale":{"domain":[84.11,117.32],"nice":false,"zero":false},"axis":{"orient":"right","values":[85.5,88.22,90.94,93.66,96.38,99.1,101.82,104.54,107.26,109.9,112.62,115.34],"format":".3f","title":null}},"y2":{"field":"p2"}}},
{"data":{"name":"hl"},
 "mark":{"type":"rule","color":"#FFBF00","strokeWidth":3.5},
 "encoding":{"x":{"field":"i","type":"quantitative","scale":{"domain":[-0.75,272.25],"nice":false,"zero":false},"axis":null},"x2":{"field":"i2"},
   "y":{"field":"p","type":"quantitative","scale":{"domain":[84.11,117.32],"nice":false,"zero":false},"axis":{"orient":"right","values":[85.5,88.22,90.94,93.66,96.38,99.1,101.82,104.54,107.26,109.9,112.62,115.34],"format":".3f","title":null}},"y2":{"field":"p2"}}},
{"data":{"name":"ar"},
 "mark":{"type":"rule","strokeWidth":2.5},
 "encoding":{"x":{"field":"i","type":"quantitative","scale":{"domain":[-0.75,272.25],"nice":false,"zero":false},"axis":null},"x2":{"field":"i2"},
   "y":{"field":"p","type":"quantitative","scale":{"domain":[84.11,117.32],"nice":false,"zero":false},"axis":{"orient":"right","values":[85.5,88.22,90.94,93.66,96.38,99.1,101.82,104.54,107.26,109.9,112.62,115.34],"format":".3f","title":null}},"y2":{"field":"p2"},
   "color":{"field":"g","type":"nominal","scale":{"domain":["k","r","y"],"range":["#4A4A4A","#F25A5A","#FFC000"]},"legend":null}}},
{"data":{"name":"ar"},
 "transform":[{"calculate":"atan2((datum.i2-datum.i)*4,(datum.p2-datum.p)/0.08242)*180/PI","as":"ang"}],
 "mark":{"type":"point","filled":true,"opacity":1,"shape":"M0,0L0.6,1.4L-0.6,1.4Z","size":300},
 "encoding":{"x":{"field":"i2","type":"quantitative","scale":{"domain":[-0.75,272.25],"nice":false,"zero":false},"axis":null},
   "y":{"field":"p2","type":"quantitative","scale":{"domain":[84.11,117.32],"nice":false,"zero":false},"axis":{"orient":"right","values":[85.5,88.22,90.94,93.66,96.38,99.1,101.82,104.54,107.26,109.9,112.62,115.34],"format":".3f","title":null}},
   "angle":{"field":"ang","type":"quantitative","scale":null},
   "color":{"field":"g","type":"nominal","scale":{"domain":["k","r","y"],"range":["#4A4A4A","#F25A5A","#FFC000"]},"legend":null}}},
{"data":{"name":"tx"},
 "mark":{"type":"text","align":"left","baseline":"middle","font":"Noto Sans CJK SC","fontSize":24,"color":"#F25A5A"},
 "encoding":{"x":{"field":"i","type":"quantitative","scale":{"domain":[-0.75,272.25],"nice":false,"zero":false},"axis":null},
   "y":{"field":"p","type":"quantitative","scale":{"domain":[84.11,117.32],"nice":false,"zero":false},"axis":{"orient":"right","values":[85.5,88.22,90.94,93.66,96.38,99.1,101.82,104.54,107.26,109.9,112.62,115.34],"format":".3f","title":null}},
   "text":{"field":"t"}}},
{"data":{"name":"box"},
 "mark":{"type":"rect","color":"#000000"},
 "encoding":{"x":{"field":"i","type":"quantitative","scale":{"domain":[-0.75,272.25],"nice":false,"zero":false},"axis":null},"x2":{"field":"i2"},
   "y":{"field":"p","type":"quantitative","scale":{"domain":[84.11,117.32],"nice":false,"zero":false},"axis":{"orient":"right","values":[85.5,88.22,90.94,93.66,96.38,99.1,101.82,104.54,107.26,109.9,112.62,115.34],"format":".3f","title":null}},"y2":{"field":"p2"}}},
{"data":{"name":"box"},
 "mark":{"type":"text","align":"left","baseline":"middle","font":"Liberation Sans","fontSize":9,"color":"#FFFFFF"},
 "encoding":{"x":{"field":"ti","type":"quantitative","scale":{"domain":[-0.75,272.25],"nice":false,"zero":false},"axis":null},
   "y":{"field":"tp","type":"quantitative","scale":{"domain":[84.11,117.32],"nice":false,"zero":false},"axis":{"orient":"right","values":[85.5,88.22,90.94,93.66,96.38,99.1,101.82,104.54,107.26,109.9,112.62,115.34],"format":".3f","title":null}},
   "text":{"field":"t"}}}
]
}
